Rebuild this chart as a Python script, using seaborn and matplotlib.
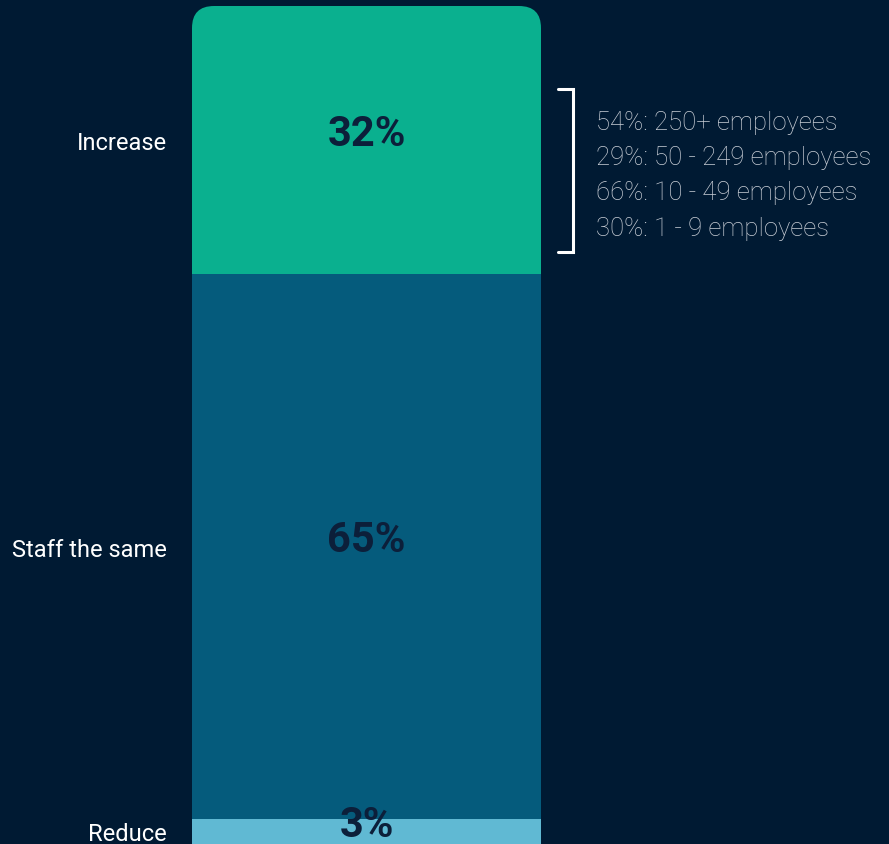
import matplotlib
matplotlib.use("Agg")
import matplotlib.pyplot as plt
from matplotlib.patches import FancyBboxPatch
from matplotlib.transforms import IdentityTransform
from matplotlib.lines import Line2D
import seaborn as sns
import pandas as pd

# ---- data ----
categories = ["Increase", "Staff the same", "Reduce"]
values = [32, 65, 3]
colors = ["#0ab08f", "#055b7c", "#60b9d3"]
breakdown = [
    "54%: 250+ employees",
    "29%: 50 - 249 employees",
    "66%: 10 - 49 employees",
    "30%: 1 - 9 employees",
]

BG = "#001a33"
LABEL_DARK = "#0c1f3a"

sns.set_theme(style="white")
plt.rcParams["font.family"] = ["Roboto", "DejaVu Sans"]

W, H = 889, 845
fig = plt.figure(figsize=(W / 100, H / 100), dpi=100, facecolor=BG)
ax = fig.add_axes([192 / W, 0, 349 / W, 838 / H])
ax.set_facecolor(BG)

# cumulative tops (stacked from the bottom: Reduce, Staff the same, Increase)
bottoms = []
tops = []
run = 0
for v in reversed(values):
    bottoms.insert(0, run)
    run += v
    tops.insert(0, run)

df = pd.DataFrame({"bar": ["all"] * len(categories), "category": categories, "top": tops})
sns.barplot(data=df, x="bar", y="top", hue="category", hue_order=categories,
            palette=colors, dodge=False, width=1.0, saturation=1, ax=ax, legend=False)
ax.set_xlim(-0.5, 0.5)
ax.set_ylim(0, sum(values))

# rounded top corners via clip path in display coords
(x0, y0) = ax.transData.transform((-0.5, 0))
(x1, y1) = ax.transData.transform((0.5, sum(values)))
clip = FancyBboxPatch((x0, y0 - 80), x1 - x0, (y1 - y0) + 80,
                      boxstyle="round,pad=0,rounding_size=22",
                      transform=IdentityTransform(), facecolor="none", edgecolor="none")
for p in ax.patches:
    p.set_clip_path(clip)
    p.set_edgecolor("none")

# value labels at segment midpoints (nudged up slightly so the smallest stays in view)
mids = [b + v / 2 for b, v in zip(bottoms, values)]
for m, v in zip(mids, values):
    ax.annotate(f"{v}%", (0, m), xytext=(0, 5), textcoords="offset points",
                ha="center", va="center", fontsize=30,
                fontweight="bold", color=LABEL_DARK)

ax.set_yticks(mids)
ax.set_yticklabels(categories, fontsize=17, color="white")
ax.tick_params(axis="y", length=0, pad=18)
ax.set_xticks([])
ax.set_xlabel("")
ax.set_ylabel("")
for s in ax.spines.values():
    s.set_visible(False)

# bracket and breakdown text
def fx(px):
    return px / W

def fy(py):
    return 1 - py / H

lw = 2.2
fig.add_artist(Line2D([fx(558), fx(573), fx(573), fx(558)],
                      [fy(90), fy(90), fy(253), fy(253)],
                      color="white", lw=lw, solid_joinstyle="miter"))
line_y = [123, 158, 193, 229]
for t, yy in zip(breakdown, line_y):
    fig.text(fx(596), fy(yy), t, ha="left", va="center", fontsize=18.5,
             color="#c9ced6", fontweight="light")

fig.savefig("out.png", dpi=100, facecolor=BG)
